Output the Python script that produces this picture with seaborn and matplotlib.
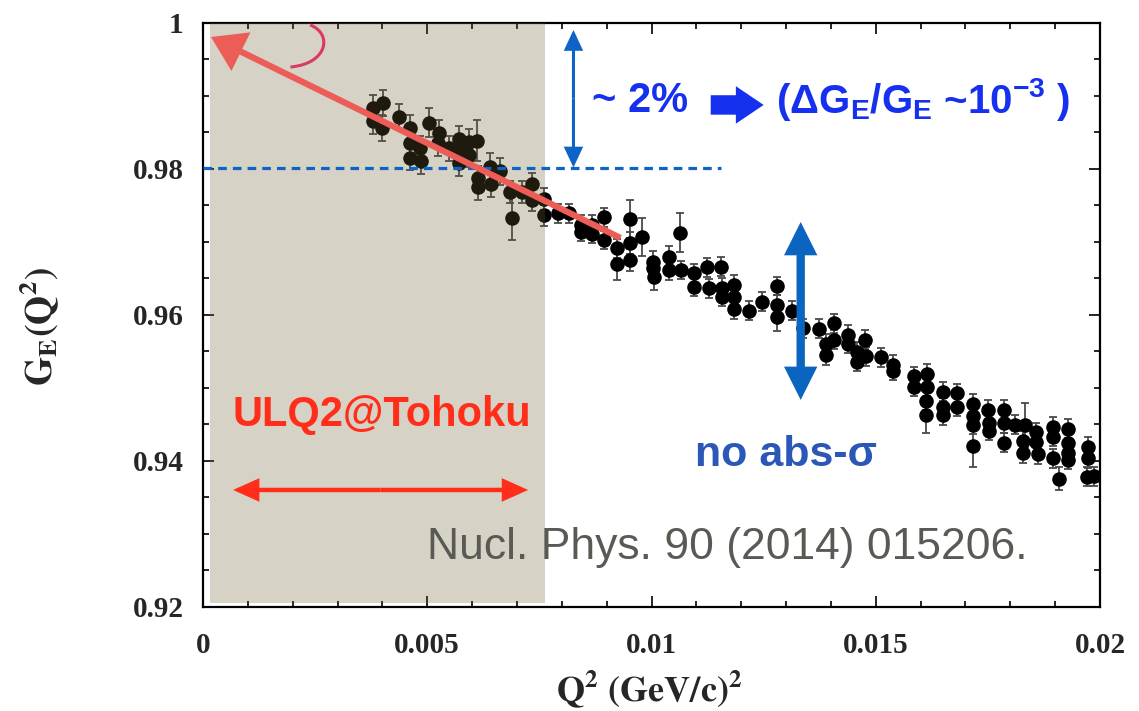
import matplotlib
matplotlib.use("Agg")
import matplotlib.pyplot as plt
import matplotlib.patches as mpatches
from matplotlib.path import Path
from matplotlib.ticker import MultipleLocator
import seaborn as sns
import pandas as pd

# ---- measured form factor G_E(Q^2) ----
q2 = [0.00379, 0.00380, 0.00401, 0.00400, 0.00436, 0.00462, 0.00462, 0.00461,
      0.00484, 0.00486, 0.00504, 0.00527, 0.00525, 0.00548, 0.00571, 0.00571,
      0.00571, 0.00592, 0.00592, 0.00611, 0.00613, 0.00613, 0.00641, 0.00643,
      0.00663, 0.00685, 0.00688, 0.00711, 0.00734, 0.00734, 0.00760, 0.00761,
      0.00791, 0.00815, 0.00842, 0.00842, 0.00868, 0.00868, 0.00895, 0.00895,
      0.00922, 0.00922, 0.00951, 0.00951, 0.00951, 0.00978, 0.01003, 0.01003,
      0.01005, 0.01039, 0.01039, 0.01063, 0.01066, 0.01094, 0.01094, 0.01124,
      0.01128, 0.01155, 0.01158, 0.01158, 0.01185, 0.01185, 0.01185, 0.01217,
      0.01247, 0.01279, 0.01279, 0.01279, 0.01313, 0.01337, 0.01373, 0.01406,
      0.01406, 0.01388, 0.01388, 0.01439, 0.01439, 0.01459, 0.01459, 0.01477,
      0.01478, 0.01512, 0.01538, 0.01538, 0.01586, 0.01586, 0.01614, 0.01614,
      0.01613, 0.01613, 0.01650, 0.01650, 0.01650, 0.01680, 0.01680, 0.01716,
      0.01716, 0.01716, 0.01716, 0.01751, 0.01752, 0.01752, 0.01785, 0.01785,
      0.01785, 0.01810, 0.01832, 0.01828, 0.01828, 0.01857, 0.01857, 0.01861,
      0.01896, 0.01896, 0.01896, 0.01908, 0.01928, 0.01928, 0.01928, 0.01928,
      0.01973, 0.01973, 0.01971, 0.01987]

ge = [0.98832, 0.98658, 0.98900, 0.98566, 0.98708, 0.98568, 0.98352, 0.98151,
      0.98284, 0.98103, 0.98634, 0.98493, 0.98352, 0.98284, 0.98414, 0.98260,
      0.98078, 0.98374, 0.98192, 0.98384, 0.97873, 0.97747, 0.98032, 0.97788,
      0.97966, 0.97689, 0.97329, 0.97689, 0.97792, 0.97575, 0.97363, 0.97585,
      0.97393, 0.97393, 0.97233, 0.97141, 0.97233, 0.97110, 0.97340, 0.97027,
      0.96914, 0.96699, 0.97311, 0.96982, 0.96753, 0.97073, 0.96730, 0.96644,
      0.96525, 0.96799, 0.96616, 0.97127, 0.96616, 0.96571, 0.96388, 0.96653,
      0.96366, 0.96658, 0.96370, 0.96247, 0.96411, 0.96243, 0.96078, 0.96059,
      0.96182, 0.96397, 0.96137, 0.95977, 0.96059, 0.95818, 0.95808, 0.95884,
      0.95663, 0.95603, 0.95445, 0.95726, 0.95603, 0.95493, 0.95356, 0.95663,
      0.95434, 0.95421, 0.95315, 0.95233, 0.95158, 0.95018, 0.95192, 0.95018,
      0.94825, 0.94630, 0.94949, 0.94733, 0.94623, 0.94927, 0.94745, 0.94781,
      0.94612, 0.94493, 0.94201, 0.94699, 0.94516, 0.94411, 0.94699, 0.94516,
      0.94251, 0.94493, 0.94493, 0.94274, 0.94105, 0.94397, 0.94257, 0.94089,
      0.94470, 0.94329, 0.94037, 0.93756, 0.94441, 0.94242, 0.94110, 0.94014,
      0.94192, 0.94037, 0.93785, 0.93790]

ge_err = [0.0018, 0.0018, 0.0018, 0.0018, 0.0018, 0.0017, 0.0017, 0.0017,
          0.0017, 0.0017, 0.0020, 0.0018, 0.0017, 0.0017, 0.0017, 0.0017,
          0.0017, 0.0017, 0.0017, 0.0028, 0.0017, 0.0017, 0.0018, 0.0017,
          0.0018, 0.0015, 0.0030, 0.0015, 0.0015, 0.0015, 0.0015, 0.0015,
          0.0013, 0.0013, 0.0013, 0.0013, 0.0013, 0.0013, 0.0013, 0.0013,
          0.0013, 0.0022, 0.0026, 0.0015, 0.0015, 0.0026, 0.0014, 0.0014,
          0.0018, 0.0014, 0.0014, 0.0027, 0.0013, 0.0013, 0.0013, 0.0013,
          0.0013, 0.0013, 0.0013, 0.0013, 0.0013, 0.0013, 0.0013, 0.0013,
          0.0013, 0.0013, 0.0013, 0.0020, 0.0013, 0.0013, 0.0013, 0.0013,
          0.0013, 0.0013, 0.0013, 0.0013, 0.0013, 0.0013, 0.0013, 0.0013,
          0.0013, 0.0013, 0.0013, 0.0013, 0.0013, 0.0013, 0.0013, 0.0013,
          0.0013, 0.0025, 0.0013, 0.0013, 0.0013, 0.0013, 0.0013, 0.0013,
          0.0013, 0.0013, 0.0028, 0.0013, 0.0013, 0.0013, 0.0013, 0.0013,
          0.0013, 0.0013, 0.0030, 0.0013, 0.0013, 0.0013, 0.0013, 0.0013,
          0.0013, 0.0013, 0.0013, 0.0016, 0.0013, 0.0013, 0.0013, 0.0013,
          0.0013, 0.0013, 0.0013, 0.0013]

x_ticks = [0, 0.005, 0.01, 0.015, 0.02]
x_tick_labels = ["0", "0.005", "0.01", "0.015", "0.02"]
y_ticks = [0.92, 0.94, 0.96, 0.98, 1.0]
y_tick_labels = ["0.92", "0.94", "0.96", "0.98", "1"]

# Q^2 window reachable by ULQ2@Tohoku
ulq2_q2 = (0.00016, 0.00763)
ulq2_ge_floor = 0.9205
# reference level used to mark the ~2% drop
ge_level = 0.9802

df = pd.DataFrame({"Q2": q2, "GE": ge, "err": ge_err})

sns.set_theme(style="ticks")
plt.rcParams["font.family"] = ["Liberation Sans", "DejaVu Sans"]
plt.rcParams["mathtext.fontset"] = "custom"
plt.rcParams["mathtext.rm"] = "Liberation Sans:bold"
plt.rcParams["mathtext.it"] = "Liberation Sans:bold"
plt.rcParams["mathtext.bf"] = "Liberation Sans:bold"

fig = plt.figure(figsize=(11.39, 7.11), dpi=100)
fig.patch.set_facecolor("white")
ax = fig.add_axes([0.1782, 0.1463, 0.7876, 0.8214])
ax.set_facecolor("white")

# error bars + markers
ax.errorbar(df["Q2"], df["GE"], yerr=df["err"], fmt="none", ecolor="#4a4a4a",
            elinewidth=1.3, capsize=3, capthick=1.3, zorder=2)
sns.scatterplot(data=df, x="Q2", y="GE", ax=ax, color="black", s=110,
                linewidth=0, zorder=3, legend=False)

ax.set_xlim(0, 0.02)
ax.set_ylim(0.92, 1.0)

# ROOT-like frame
for sp in ax.spines.values():
    sp.set_visible(True)
    sp.set_linewidth(1.6)
    sp.set_color("black")
ax.set_xticks(x_ticks, x_tick_labels, fontfamily="Liberation Serif",
              fontweight="bold", fontsize=21)
ax.set_yticks(y_ticks, y_tick_labels, fontfamily="Liberation Serif",
              fontweight="bold", fontsize=21)
ax.xaxis.set_minor_locator(MultipleLocator(0.001))
ax.yaxis.set_minor_locator(MultipleLocator(0.005))
ax.tick_params(which="both", direction="in", top=True, right=True,
               color="black", width=1.2)
ax.tick_params(which="major", length=8)
ax.tick_params(which="minor", length=4)
ax.tick_params(axis="x", which="major", pad=18)
ax.tick_params(axis="y", which="major", pad=14)

ax.set_xlabel(r"$\mathbf{Q^2\ (GeV/c)^2}$", math_fontfamily="stix", fontsize=26)
ax.set_ylabel(r"$\mathbf{G_E(Q^2)}$", math_fontfamily="stix", fontsize=27)
ax.xaxis.set_label_coords(0.498, -0.105)
ax.yaxis.set_label_coords(-0.158, 0.48)

# shaded ULQ2 window drawn over the points
ax.add_patch(mpatches.Rectangle((ulq2_q2[0], ulq2_ge_floor),
                                ulq2_q2[1] - ulq2_q2[0], 1.0 - ulq2_ge_floor,
                                facecolor="#6C5E31", alpha=0.28, lw=0,
                                zorder=4))

blue = "#0D63C6"
# dashed level line
ax.plot([0, 0.01154], [ge_level, ge_level], color=blue, lw=2.3,
        dashes=(2.7, 1.9), zorder=5)


def arrow(p0, p1, color, hl, hw, tw, z=6):
    ax.add_patch(mpatches.FancyArrowPatch(
        p0, p1, arrowstyle=mpatches.ArrowStyle.Simple(
            head_length=hl, head_width=hw, tail_width=tw),
        mutation_scale=1, color=color, lw=0, shrinkA=0, shrinkB=0, zorder=z))


def double_arrow(p0, p1, color, hl, hw, tw, z=6):
    mid = ((p0[0] + p1[0]) / 2, (p0[1] + p1[1]) / 2)
    arrow(mid, p0, color, hl, hw, tw, z)
    arrow(mid, p1, color, hl, hw, tw, z)


# ~2% span
double_arrow((0.00826, 0.99904), (0.00826, ge_level), blue, 15, 14, 2.2)
# systematic range without absolute cross section
double_arrow((0.013326, 0.97274), (0.013326, 0.94836), "#0A64C0", 24, 24, 6)
# block arrow between statements
arrow((0.01132, 0.98877), (0.01250, 0.98877), "#1530EE", 20, 27, 14)
# ULQ2 Q^2 reach
double_arrow((0.00067, 0.93603), (0.00725, 0.93603), "#FF2D1A", 19, 17, 3.2)
# extrapolation to Q^2 = 0
arrow((0.009308, 0.97055), (0.000179, 0.99808), "#EC5D57", 24, 31, 4.5, z=7)

# small hand-drawn tick near the top
curl = Path([(0.00239, 0.99973), (0.00290, 0.99850), (0.00278, 0.99440),
             (0.00195, 0.99397)],
            [Path.MOVETO, Path.CURVE4, Path.CURVE4, Path.CURVE4])
ax.add_patch(mpatches.PathPatch(curl, fill=False, edgecolor="#D93A60",
                                lw=2.2, zorder=7))

# annotations
ax.text(0.00868, 0.9893, "~ 2%", color="#1530EE", fontsize=30,
        fontweight="bold", ha="left", va="center", zorder=8)
ax.text(0.01277, 0.98945, r"(ΔG$_\mathrm{E}$/G$_\mathrm{E}$ ~10$^\mathrm{-3}$ )",
        color="#1530EE", fontsize=29, fontweight="bold", ha="left",
        va="center", zorder=8)
ax.text(0.003996, 0.9463, "ULQ2@Tohoku", color="#FF2D1A", fontsize=30,
        fontweight="bold", ha="center", va="center", zorder=8)
ax.text(0.01299, 0.9408, "no abs-σ", color="#2B58B8", fontsize=31,
        fontweight="bold", ha="center", va="center", zorder=8)
ax.text(0.01170, 0.92808, "Nucl. Phys. 90 (2014) 015206.", color="#5A5A55",
        fontsize=32, ha="center", va="center", zorder=8)

fig.savefig("out.png", dpi=100, facecolor="white")
